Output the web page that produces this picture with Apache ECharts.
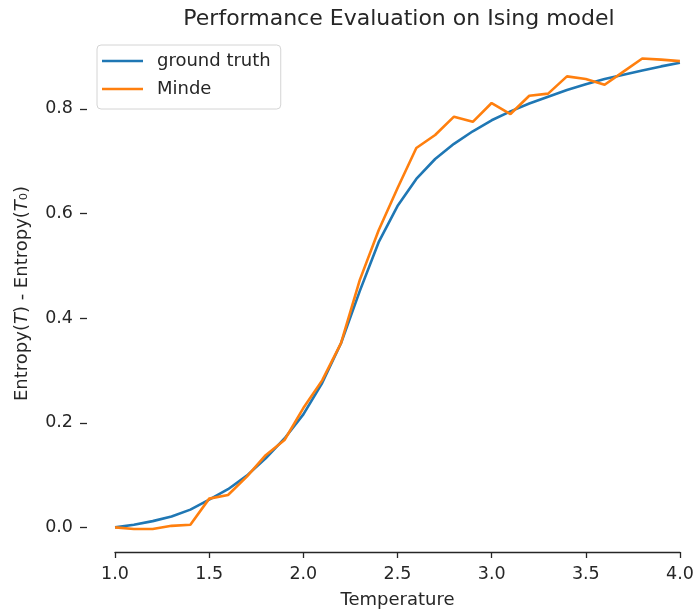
<!DOCTYPE html>
<html>
<head>
<meta charset="utf-8">
<script src="https://cdn.jsdelivr.net/npm/echarts@6/dist/echarts.min.js"></script>
<style>html,body{margin:0;padding:0;background:#fff}#c{width:698px;height:615px}</style>
</head>
<body>
<div id="c"></div>
<script>
const temperatures = [1.0,1.1,1.2,1.3,1.4,1.5,1.6,1.7,1.8,1.9,2.0,2.1,2.2,2.3,2.4,2.5,2.6,2.7,2.8,2.9,3.0,3.1,3.2,3.3,3.4,3.5,3.6,3.7,3.8,3.9,4.0];
const groundTruth = [0.000,0.005,0.012,0.021,0.034,0.053,0.073,0.099,0.132,0.170,0.216,0.276,0.352,0.452,0.545,0.614,0.666,0.704,0.733,0.757,0.778,0.795,0.810,0.823,0.836,0.847,0.857,0.865,0.873,0.881,0.888];
const minde = [0.000,-0.003,-0.003,0.003,0.005,0.055,0.062,0.097,0.138,0.167,0.228,0.281,0.352,0.473,0.568,0.648,0.725,0.750,0.785,0.775,0.811,0.790,0.825,0.829,0.862,0.857,0.846,0.871,0.896,0.894,0.891];
const xTicks = [1.0,1.5,2.0,2.5,3.0,3.5,4.0];
const yTicks = [0.0,0.2,0.4,0.6,0.8];

const FONT = 'DejaVu Sans';
const TXT = '#262626';
const FS = 17.5;
const chart = echarts.init(document.getElementById('c'));
chart.setOption({
  animation: false,
  textStyle: {fontFamily: FONT, color: TXT},
  title: {
    text: 'Performance Evaluation on Ising model',
    left: 394, top: 3, textAlign: 'center',
    textStyle: {fontFamily: FONT, fontSize: 22, fontWeight: 'normal', color: TXT}
  },
  legend: {
    orient: 'vertical', left: 97, top: 45,
    data: ['ground truth', 'Minde'],
    icon: 'rect', itemWidth: 41, itemHeight: 2.6, itemGap: 10,
    padding: [7, 10, 11, 5],
    borderColor: '#d4d4d4', borderWidth: 1, borderRadius: 4,
    textStyle: {fontFamily: FONT, fontSize: 18, color: TXT, padding: [0,0,0,9]}
  },
  grid: [
    {left: 87, right: 0, top: 35, bottom: 63},
    {left: 115, right: 18, top: 35, bottom: 63}
  ],
  xAxis: [
    {gridIndex: 0, type: 'value', min: 0.851, max: 4.096,
     axisLine: {show: false}, axisTick: {show: false}, axisLabel: {show: false}, splitLine: {show: false}},
    {gridIndex: 1, type: 'value', min: 1.0, max: 4.0, interval: 0.5, position: 'bottom',
     name: 'Temperature', nameLocation: 'middle', nameGap: 39,
     nameTextStyle: {fontFamily: FONT, fontSize: 18, color: TXT},
     axisLine: {show: true, onZero: false, lineStyle: {color: '#262626', width: 1.3}},
     axisTick: {show: true, length: 6, lineStyle: {color: '#262626', width: 1.3}},
     axisLabel: {fontFamily: FONT, fontSize: FS, color: TXT, margin: 13, formatter: v => v.toFixed(1)},
     splitLine: {show: false}}
  ],
  yAxis: [
    {gridIndex: 0, type: 'value', min: -0.047, max: 0.941,
     name: 'Entropy({i|T}) - Entropy({i|T}₀)', nameLocation: 'middle', nameGap: 56, nameRotate: 90,
     nameTextStyle: {fontFamily: FONT, fontSize: 18, color: TXT, rich: {i: {fontFamily: FONT, fontSize: 18, fontStyle: 'italic', color: TXT}}},
     axisLine: {show: false},
     axisTick: {show: true, length: 7, customValues: yTicks, lineStyle: {color: '#262626', width: 1.3}},
     axisLabel: {fontFamily: FONT, fontSize: FS, color: TXT, margin: 14, customValues: yTicks, formatter: v => v.toFixed(1)},
     splitLine: {show: false}},
    {gridIndex: 1, type: 'value', min: -0.047, max: 0.941, show: false}
  ],
  series: [
    {name: 'ground truth', type: 'line', xAxisIndex: 0, yAxisIndex: 0, symbol: 'none',
     lineStyle: {color: '#1f77b4', width: 2.6}, itemStyle: {color: '#1f77b4'},
     data: temperatures.map((t, i) => [t, groundTruth[i]])},
    {name: 'Minde', type: 'line', xAxisIndex: 0, yAxisIndex: 0, symbol: 'none',
     lineStyle: {color: '#ff7f0e', width: 2.6}, itemStyle: {color: '#ff7f0e'},
     data: temperatures.map((t, i) => [t, minde[i]])},
    {type: 'line', xAxisIndex: 1, yAxisIndex: 1, data: [], silent: true}
  ]
});
</script>
</body>
</html>
